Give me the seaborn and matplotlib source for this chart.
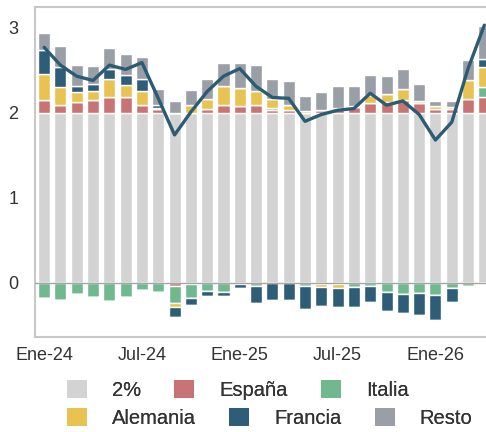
import numpy as np
import matplotlib
matplotlib.use('Agg')
import matplotlib.pyplot as plt
from matplotlib.patches import Patch
import seaborn as sns

# meses Ene-24 .. Abr-26
meses = ['Ene-24', 'Feb-24', 'Mar-24', 'Abr-24', 'May-24', 'Jun-24', 'Jul-24', 'Ago-24',
         'Sep-24', 'Oct-24', 'Nov-24', 'Dic-24', 'Ene-25', 'Feb-25', 'Mar-25', 'Abr-25',
         'May-25', 'Jun-25', 'Jul-25', 'Ago-25', 'Sep-25', 'Oct-25', 'Nov-25', 'Dic-25',
         'Ene-26', 'Feb-26', 'Mar-26', 'Abr-26']

base_2 = [2.0] * 28

espana = [0.15, 0.09, 0.13, 0.15, 0.19, 0.18, 0.09, 0.04, -0.03, -0.01, 0.05, 0.09, 0.08, 0.09,
          0.03, 0.03, 0.00, 0.035, 0.06, 0.07, 0.11, 0.13, 0.15, 0.12, 0.04, 0.05, 0.16, 0.18]
italia = [-0.18, -0.20, -0.13, -0.17, -0.21, -0.17, -0.08, -0.11, -0.21, -0.17, -0.10, -0.11, -0.01, -0.03,
          0.03, 0.00, -0.04, -0.01, -0.01, -0.05, -0.04, -0.11, -0.13, -0.12, -0.14, -0.06, -0.03, 0.12]
alemania = [0.31, 0.21, 0.11, 0.11, 0.21, 0.15, 0.17, 0.02, -0.04, 0.09, 0.11, 0.23, 0.21, 0.17,
            0.10, 0.06, 0.02, -0.04, -0.05, 0.01, 0.10, 0.09, 0.13, 0.02, 0.04, 0.02, 0.23, 0.24]
francia = [0.28, 0.24, 0.08, 0.08, 0.11, 0.11, 0.14, 0.03, -0.12, -0.08, -0.05, -0.04, -0.05, -0.21,
           -0.20, -0.20, -0.27, -0.22, -0.22, -0.23, -0.18, -0.22, -0.22, -0.26, -0.30, -0.16, -0.02, 0.09]
resto = [0.20, 0.24, 0.24, 0.21, 0.25, 0.25, 0.26, 0.19, 0.14, 0.18, 0.24, 0.27, 0.29, 0.30,
         0.24, 0.28, 0.18, 0.205, 0.25, 0.24, 0.23, 0.21, 0.23, 0.20, 0.06, 0.07, 0.23, 0.39]

# inflacion total (linea)
total = [2.77, 2.56, 2.43, 2.38, 2.56, 2.51, 2.59, 2.17, 1.74, 2.01, 2.25, 2.43, 2.52, 2.31,
         2.18, 2.17, 1.90, 1.98, 2.03, 2.05, 2.23, 2.09, 2.14, 1.98, 1.68, 1.89, 2.52, 3.03]

series = {
    'España': (espana, '#c97474'),
    'Italia': (italia, '#70b98f'),
    'Alemania': (alemania, '#e8c352'),
    'Francia': (francia, '#2e5d77'),
    'Resto': (resto, '#9a9ea6'),
}
color_base = '#d3d3d3'
color_linea = '#2c5b74'

sns.set_theme(style='white')
plt.rcParams['font.family'] = ['Liberation Sans', 'DejaVu Sans']

fig = plt.figure(figsize=(4.86, 4.32), dpi=100)
ax = fig.add_axes([35 / 486, 1 - 337 / 432, 1 - 35 / 486, (337 - 7.3) / 432])

x = np.arange(len(meses))
ancho = 0.74

# base 2%
ax.bar(x, base_2, width=ancho, color=color_base, zorder=2)

# apilado: positivos desde 2, negativos desde 0
arriba = np.array(base_2, dtype=float)
abajo = np.zeros(len(meses))
for nombre, (vals, col) in series.items():
    v = np.array(vals, dtype=float)
    pos = np.where(v > 0, v, 0)
    neg = np.where(v < 0, v, 0)
    ax.bar(x, pos, bottom=arriba, width=ancho, color=col, zorder=2)
    ax.bar(x, neg, bottom=abajo, width=ancho, color=col, zorder=2)
    arriba += pos
    abajo += neg

ax.axhline(0, color='#a6a6a6', lw=1, zorder=3)

sns.lineplot(x=x, y=total, ax=ax, color=color_linea, lw=2.4, zorder=4)

ax.set_xlim(-0.56, 27.1)
ax.set_ylim(-0.635, 3.24)
ax.set_yticks([0, 1, 2, 3])
ax.set_xticks(x[::6])
ax.set_xticklabels(meses[::6])
ax.tick_params(axis='both', length=0, labelsize=13, colors='#333333')
ax.tick_params(axis='y', pad=12)
ax.tick_params(axis='x', pad=7)
ax.grid(False)

for lado in ['left', 'top', 'bottom']:
    ax.spines[lado].set_color('#c8c8c8')
    ax.spines[lado].set_linewidth(1.5)
ax.spines['right'].set_visible(False)

# leyenda en dos filas (flujo)
filas = [[('2%', color_base), ('España', series['España'][1]), ('Italia', series['Italia'][1])],
         [('Alemania', series['Alemania'][1]), ('Francia', series['Francia'][1]), ('Resto', series['Resto'][1])]]
for i, fila in enumerate(filas):
    handles = [Patch(facecolor=c, edgecolor='none', label=n) for n, c in fila]
    leg = fig.legend(handles=handles, ncol=3, loc='center left',
                     bbox_to_anchor=(67 / 486, 1 - (390 + 28 * i) / 432),
                     frameon=False, fontsize=14.5, borderpad=0, borderaxespad=0,
                     handlelength=1.0, handleheight=1.0, handletextpad=1.24,
                     columnspacing=1.64, labelcolor='#333333')
    fig.add_artist(leg)

fig.savefig('out.png', dpi=100)
